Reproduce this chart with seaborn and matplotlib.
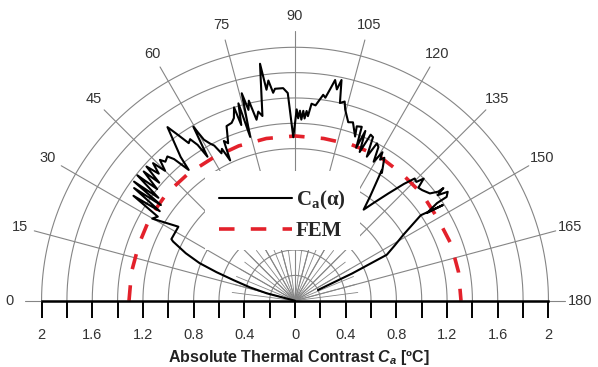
import numpy as np
import pandas as pd
import matplotlib
matplotlib.use("Agg")
import matplotlib.pyplot as plt
import matplotlib.patches as mpatches
from matplotlib.font_manager import FontProperties
import seaborn as sns

# ---------------- data ----------------
# measured absolute thermal contrast Ca(alpha): angle [deg], radius [degC]
ca_angle = [
    13.5, 14.7, 16.5, 18.5, 20.0, 21.5, 23.5, 25.9, 26.5, 32.4,
    29.9, 31.5, 33.0, 33.5, 35.0, 35.5, 36.5, 37.0, 38.5, 39.0,
    40.5, 41.0, 42.1, 43.0, 44.1, 45.0, 46.2, 47.0, 48.5, 49.5,
    50.9, 51.5, 53.7, 54.8, 56.0, 57.0, 58.0, 58.7, 59.7, 60.5,
    61.6, 62.5, 63.5, 64.3, 65.2, 66.0, 67.0, 68.6, 70.4, 71.5,
    72.5, 73.0, 74.0, 74.7, 75.6, 76.3, 77.0, 78.0, 79.0, 80.0,
    81.6, 82.3, 83.1, 84.0, 84.6, 86.8, 88.0, 89.4, 90.5, 91.0,
    91.5, 92.0, 92.5, 93.0, 93.5, 94.0, 94.8, 96.0, 97.8, 98.5,
    99.4, 100.3, 101.2, 101.9, 102.8, 104.0, 104.7, 106.6, 108.0, 110.1,
    109.5, 111.0, 111.8, 112.5, 113.5, 114.5, 115.5, 116.5, 117.5, 118.5,
    119.5, 120.5, 121.1, 122.0, 124.2, 123.6, 125.8, 127.0, 128.8, 131.0,
    133.0, 134.4, 135.6, 136.5, 137.5, 139.0, 141.5, 142.7, 142.8, 143.5,
    144.5, 145.6, 145.5, 146.4, 147.1, 145.8, 148.2, 148.7, 151.0, 153.4,
    154.5, 155.0,
]
ca_r = [
    0.00, 0.23, 0.37, 0.51, 0.66, 0.81, 0.94, 1.07, 1.09, 1.09,
    1.30, 1.27, 1.52, 1.28, 1.55, 1.30, 1.58, 1.35, 1.59, 1.40,
    1.57, 1.42, 1.58, 1.47, 1.56, 1.45, 1.54, 1.50, 1.52, 1.47,
    1.33, 1.45, 1.70, 1.60, 1.50, 1.52, 1.45, 1.33, 1.59, 1.46,
    1.41, 1.38, 1.30, 1.33, 1.22, 1.38, 1.35, 1.48, 1.49, 1.52,
    1.60, 1.45, 1.62, 1.34, 1.69, 1.55, 1.62, 1.46, 1.52, 1.48,
    1.89, 1.68, 1.75, 1.65, 1.68, 1.68, 1.64, 1.29, 1.51, 1.44,
    1.50, 1.43, 1.50, 1.44, 1.50, 1.46, 1.56, 1.55, 1.64, 1.62,
    1.69, 1.77, 1.70, 1.78, 1.60, 1.62, 1.56, 1.47, 1.48, 1.38,
    1.46, 1.47, 1.30, 1.45, 1.28, 1.44, 1.43, 1.27, 1.40, 1.38,
    1.26, 1.36, 1.30, 1.33, 1.22, 1.24, 1.01, 0.90, 0.99, 1.12,
    1.26, 1.35, 1.34, 1.40, 1.32, 1.33, 1.36, 1.42, 1.47, 1.40,
    1.48, 1.45, 1.36, 1.25, 1.39, 1.20, 1.03, 1.00, 0.90, 0.81,
    0.50, 0.20,
]
# FEM prediction
fem_angle = [0, 10, 20, 30, 40, 50, 60, 70, 80, 90, 100, 110, 120, 130, 140, 150, 160, 170, 180]
fem_r = [1.31, 1.31, 1.31, 1.32, 1.32, 1.31, 1.30, 1.30, 1.30, 1.30,
         1.30, 1.31, 1.32, 1.31, 1.31, 1.30, 1.31, 1.31, 1.31]

angle_labels = [0, 15, 30, 45, 60, 75, 90, 105, 120, 135, 150, 165, 180]
grid_radii = [0.2, 0.4, 0.6, 0.8, 1.0, 1.2, 1.4, 1.6, 1.8, 2.0]
tick_values = [-2.0, -1.6, -1.2, -0.8, -0.4, 0.0, 0.4, 0.8, 1.2, 1.6, 2.0]
tick_texts = ["2", "1.6", "1.2", "0.8", "0.4", "0", "0.4", "0.8", "1.2", "1.6", "2"]

assert len(ca_angle) == len(ca_r)

# ---------------- style ----------------
sns.set_style("white")
plt.rcParams["font.family"] = ["Liberation Sans", "DejaVu Sans"]
plt.rcParams["mathtext.fontset"] = "custom"
plt.rcParams["mathtext.it"] = "Liberation Sans:italic:bold"
plt.rcParams["mathtext.rm"] = "Liberation Sans:bold"
plt.rcParams["mathtext.bf"] = "Liberation Serif:bold"


def to_xy(ang, r):
    a = np.deg2rad(np.asarray(ang, dtype=float))
    r = np.asarray(r, dtype=float)
    return -r * np.cos(a), r * np.sin(a)


fig = plt.figure(figsize=(5.98, 3.67), dpi=100)
ax = fig.add_axes([0, 0, 1, 1])
ax.set_xlim(-2.328, 2.391)
ax.set_ylim(-0.523, 2.373)

grid_c = "#858585"
# arcs
th = np.linspace(0, np.pi, 361)
for rr in grid_radii:
    ax.plot(-rr * np.cos(th), rr * np.sin(th), color=grid_c, lw=0.8, zorder=1)
# fine radial lines near the centre
for a in np.arange(0, 180.1, 7.5):
    x, y = to_xy([a, a], [0, 0.5])
    ax.plot(x, y, color=grid_c, lw=0.6, zorder=1)
# main radial lines with labels
for a in angle_labels:
    x, y = to_xy([a, a], [0, 2.13])
    ax.plot(x, y, color=grid_c, lw=0.8, zorder=1)
    lx, ly = to_xy([a], [2.25])
    ax.text(lx[0], ly[0], str(a), ha="center", va="center", fontsize=10.5,
            color="#333333")

# white legend area
ax.add_patch(mpatches.Rectangle((-0.71, 0.40), 1.22, 0.62, facecolor="white",
                                edgecolor="none", zorder=2))

# data lines
cx, cy = to_xy(ca_angle, ca_r)
fx, fy = to_xy(fem_angle, fem_r)
df_ca = pd.DataFrame({"x": cx, "y": cy})
df_fem = pd.DataFrame({"x": fx, "y": fy})
sns.lineplot(data=df_ca, x="x", y="y", sort=False, estimator=None, ax=ax,
             color="black", lw=1.5, label=r"$\mathbf{C_a(\alpha)}$", zorder=4)
sns.lineplot(data=df_fem, x="x", y="y", sort=False, estimator=None, ax=ax,
             color="#e3212b", lw=2.6, linestyle=(0, (4.3, 4.5)),
             label="FEM", zorder=3)

handles, labels = ax.get_legend_handles_labels()
ax.legend(handles, labels, loc="upper left", bbox_to_anchor=(0.366, 0.485),
          frameon=False, borderaxespad=0, borderpad=0, handlelength=3.5,
          handletextpad=0.2, labelspacing=0.45,
          prop=FontProperties(family="Liberation Serif", weight="bold", size=15))

# axis / baseline
for s in ["left", "right", "top"]:
    ax.spines[s].set_visible(False)
ax.spines["bottom"].set_position(("data", 0))
ax.spines["bottom"].set_bounds(-2, 2)
ax.spines["bottom"].set_linewidth(1.8)
ax.spines["bottom"].set_color("black")
ax.spines["bottom"].set_zorder(3.5)
ax.yaxis.set_visible(False)
ax.set_xticks(tick_values)
ax.set_xticklabels(tick_texts)
ax.set_xticks(np.round(np.arange(-1.8, 1.81, 0.4), 1), minor=True)
ax.tick_params(axis="x", which="both", bottom=True, top=False, direction="out",
               length=12, width=1.4, color="black")
ax.tick_params(axis="x", which="major", pad=8, labelsize=10.5,
               labelcolor="#333333")
ax.set_xlabel(r"Absolute Thermal Contrast $C_a$ [ºC]", fontsize=11.5,
              fontweight="bold", color="#222222", labelpad=4)

fig.savefig("out.png", dpi=100, facecolor="white")
